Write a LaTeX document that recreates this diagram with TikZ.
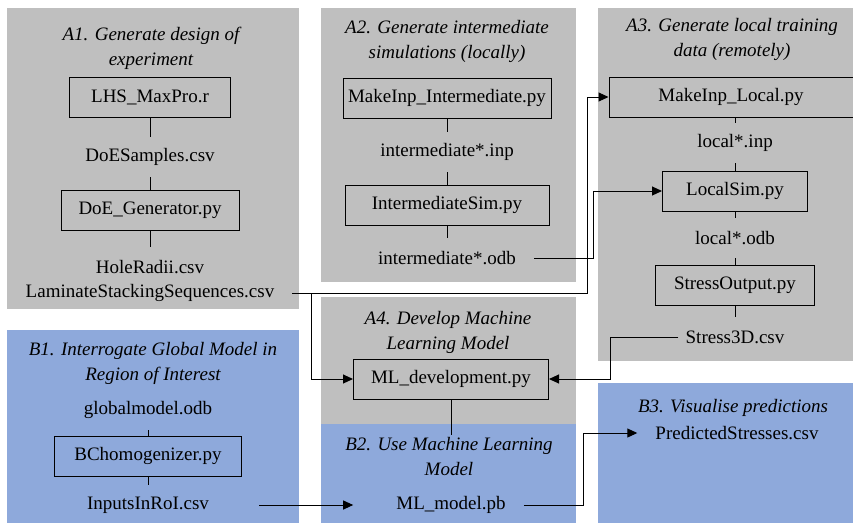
\documentclass[tikz,border=0pt]{standalone}
\usepackage{fontspec}
\setmainfont{Liberation Serif}
\usetikzlibrary{arrows.meta,positioning}
\definecolor{panelgray}{RGB}{191,191,191}
\definecolor{panelblue}{RGB}{142,169,219}
\begin{document}
\begin{tikzpicture}[x=1pt, y=-1pt,
    node distance=50pt, on grid,
    every node/.style={font=\fontsize{19}{25}\selectfont},
    box/.style={draw, line width=1pt, minimum height=40pt, inner sep=0pt},
    file/.style={minimum height=40pt, inner xsep=18pt, inner ysep=0pt},
    ttl/.style={align=center, font=\fontsize{19}{25}\selectfont\itshape, inner sep=2pt},
    arr/.style={-{Triangle[length=10pt,width=9pt]}, line width=1pt},
    lnk/.style={line width=1pt}]
  \useasboundingbox (0,0) rectangle (853,523);
  % panels
  \fill[panelgray] (7,8) rectangle (299,309);
  \fill[panelgray] (321,8) rectangle (576,282);
  \fill[panelgray] (598,8) rectangle (853,361);
  \fill[panelgray] (321,297) rectangle (576,424);
  \fill[panelblue] (7,330) rectangle (299,523);
  \fill[panelblue] (321,424) rectangle (576,523);
  \fill[panelblue] (598,383) rectangle (853,523);
  \node[ttl] (ta1) at (151,48) {A1. Generate design of\\experiment};
  \node[ttl] (ta2) at (447,41) {A2. Generate intermediate\\simulations (locally)};
  \node[ttl] (ta3) at (732,39) {A3. Generate local training\\data (remotely)};
  \node[ttl] (ta4) at (448,332) {A4. Develop Machine\\Learning Model};
  \node[ttl] (tb1) at (153,363) {B1. Interrogate Global Model in\\Region of Interest};
  \node[ttl] (tb2) at (449,456) {B2. Use Machine Learning\\Model};
  \node[ttl] (tb3) at (733,408) {B3. Visualise predictions};
  % A1
  \node[box, minimum width=161pt] (lhs) at (150,97) {LHS\_MaxPro.r};
  \node[file, below=60pt of lhs] (doesamp) {DoESamples.csv};
  \node[box, minimum width=178pt, below=53pt of doesamp] (doegen) {DoE\_Generator.py};
  \node[file, below=57pt of doegen] (holes) {HoleRadii.csv};
  \node[file, below=26pt of holes] (lam) {LaminateStackingSequences.csv};
  % A2
  \node[box, minimum width=208pt] (mkint) at (447,98) {MakeInp\_Intermediate.py};
  \node[file, below=54pt of mkint] (iinp) {intermediate*.inp};
  \node[box, minimum width=204pt, below=53pt of iinp] (isim) {IntermediateSim.py};
  \node[file, below=53pt of isim] (iodb) {intermediate*.odb};
  % A3
  \node[box, minimum width=244pt] (mkloc) at (731,97) {MakeInp\_Local.py};
  \node[file, below=46pt of mkloc, xshift=4pt] (linp) {local*.inp};
  \node[box, minimum width=145pt, below=48pt of linp] (lsim) {LocalSim.py};
  \node[file, below=47pt of lsim] (lodb) {local*.odb};
  \node[box, minimum width=159pt, below=47pt of lodb] (sout) {StressOutput.py};
  \node[file, below=52pt of sout] (s3d) {Stress3D.csv};
  % A4, B1, B2, B3
  \node[box, minimum width=195pt] (mldev) at (451,379) {ML\_development.py};
  \node[file] (glob) at (148,410) {globalmodel.odb};
  \node[box, minimum width=187pt, below=46pt of glob] (bch) {BChomogenizer.py};
  \node[file, below=49pt of bch] (roi) {InputsInRoI.csv};
  \node[file, below=126pt of mldev] (mlmodel) {ML\_model.pb};
  \node[file] (pred) at (737,433) {PredictedStresses.csv};
  \coordinate (splitA) at (311,0);
  \coordinate (bendA) at (587,0);
  \coordinate (bendB) at (593,0);
  \coordinate (bendC) at (610,0);
  \coordinate (bendD) at (583,0);
  \draw[lnk] (lhs) -- (doesamp);
  \draw[lnk] (doesamp) -- (doegen);
  \draw[lnk] (doegen) -- (holes);
  \draw[lnk] (mkint) -- (iinp);
  \draw[lnk] (iinp) -- (isim);
  \draw[lnk] (isim) -- (iodb);
  \draw[lnk] (mkloc.south -| linp.north) -- (linp.north);
  \draw[lnk] (linp) -- (lsim);
  \draw[lnk] (lsim) -- (lodb);
  \draw[lnk] (lodb) -- (sout);
  \draw[lnk] (sout) -- (s3d);
  \draw[lnk] (glob) -- (bch);
  \draw[lnk] (bch) -- (roi);
  \draw[lnk] (mldev.south) -- (mldev.south |- tb2.north);
  \draw[arr] (lam.east) -| (bendA |- mkloc.west) -- (mkloc.west);
  \draw[arr] (lam.east -| splitA) |- (mldev.west);
  \draw[arr] (iodb.east) -| (bendB |- lsim.west) -- (lsim.west);
  \draw[arr, shorten <=-11pt] (s3d.west) -| (bendC |- mldev.east) -- (mldev.east);
  \draw[arr, shorten <=32pt, shorten >=25pt] (roi) -- (mlmodel);
  \draw[arr] (mlmodel.east) -| (bendD |- pred.west) -- (pred.west);
\end{tikzpicture}
\end{document}
